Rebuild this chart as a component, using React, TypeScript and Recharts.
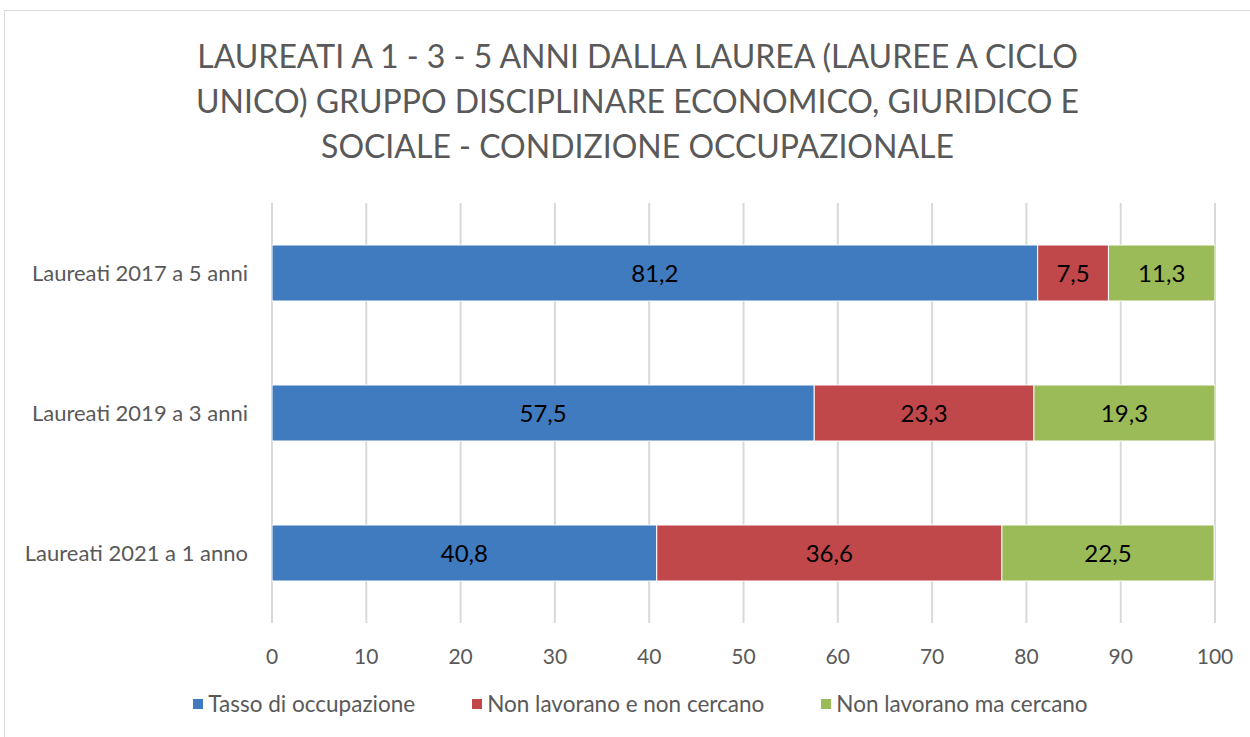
import React from 'react';
import { BarChart, Bar, XAxis, YAxis, CartesianGrid, Legend, LabelList } from 'recharts';

const categories = ['Laureati 2017 a 5 anni', 'Laureati 2019 a 3 anni', 'Laureati 2021 a 1 anno'];
const tassoOccupazione = [81.2, 57.5, 40.8];
const nonLavoranoNonCercano = [7.5, 23.3, 36.6];
const nonLavoranoCercano = [11.3, 19.3, 22.5];
const xTicks = [0, 10, 20, 30, 40, 50, 60, 70, 80, 90, 100];

const titleLines = [
    'LAUREATI A 1 - 3 - 5 ANNI DALLA LAUREA (LAUREE A CICLO',
    'UNICO) GRUPPO DISCIPLINARE ECONOMICO, GIURIDICO E',
    'SOCIALE - CONDIZIONE OCCUPAZIONALE',
];

const series = [
    { key: 'tasso', name: 'Tasso di occupazione', color: '#3F7BBE' },
    { key: 'nonCercano', name: 'Non lavorano e non cercano', color: '#C0474A' },
    { key: 'cercano', name: 'Non lavorano ma cercano', color: '#9BBB59' },
];

const FONT = "Lato, 'Open Sans', sans-serif";

const data = categories.map((name, i) => ({
    name,
    tasso: tassoOccupazione[i],
    nonCercano: nonLavoranoNonCercano[i],
    cercano: nonLavoranoCercano[i],
}));

const fmt = (v: any) => Number(v).toFixed(1).replace('.', ',');

const LegendContent = () => (
    <div style={{ display: 'flex', justifyContent: 'center', gap: 57, fontFamily: FONT, fontSize: 22.5, color: '#595959', paddingLeft: 66 }}>
        {series.map((s) => (
            <div key={s.key} style={{ display: 'flex', alignItems: 'center' }}>
                <span style={{ width: 10, height: 10, background: s.color, marginRight: 5, display: 'inline-block' }} />
                {s.name}
            </div>
        ))}
    </div>
);

export default function App() {
    return (
        <div style={{ position: 'absolute', left: 0, top: 0, width: 1250, height: 737, background: '#fff', overflow: 'hidden' }}>
            <div style={{ position: 'absolute', left: 4, top: 10, width: 1260, height: 740, border: '1px solid #d9d9d9' }} />
            <div
                style={{
                    position: 'absolute',
                    left: 0,
                    top: 33,
                    width: 1275,
                    textAlign: 'center',
                    fontFamily: FONT,
                    fontSize: 32,
                    lineHeight: '45px',
                    color: '#595959',
                }}
            >
                {titleLines.map((l) => (
                    <div key={l}>{l}</div>
                ))}
            </div>
            <div style={{ position: 'absolute', left: 0, top: 0 }}>
                <BarChart
                    width={1250}
                    height={737}
                    data={data}
                    layout="vertical"
                    barCategoryGap="30%"
                    margin={{ top: 203, right: 35, left: 0, bottom: 57 }}
                >
                    <CartesianGrid horizontal={false} stroke="#d9d9d9" strokeWidth={2} />
                    <XAxis
                        type="number"
                        domain={[0, 100]}
                        ticks={xTicks}
                        allowDataOverflow
                        axisLine={false}
                        tickLine={false}
                        tickMargin={20}
                        tick={{ fill: '#595959', fontSize: 21, fontFamily: FONT }}
                    />
                    <YAxis
                        type="category"
                        dataKey="name"
                        width={272}
                        axisLine={false}
                        tickLine={false}
                        tickMargin={18}
                        tick={{ fill: '#595959', fontSize: 22, fontFamily: FONT }}
                    />
                    <Legend verticalAlign="bottom" wrapperStyle={{ bottom: 20 }} content={<LegendContent />} />
                    {series.map((s) => (
                        <Bar key={s.key} dataKey={s.key} name={s.name} stackId="a" fill={s.color} stroke="#fff" strokeWidth={1} isAnimationActive={false}>
                            <LabelList dataKey={s.key} position="center" formatter={fmt} fill="#000" fontSize={24} fontFamily={FONT} />
                        </Bar>
                    ))}
                </BarChart>
            </div>
        </div>
    );
}
